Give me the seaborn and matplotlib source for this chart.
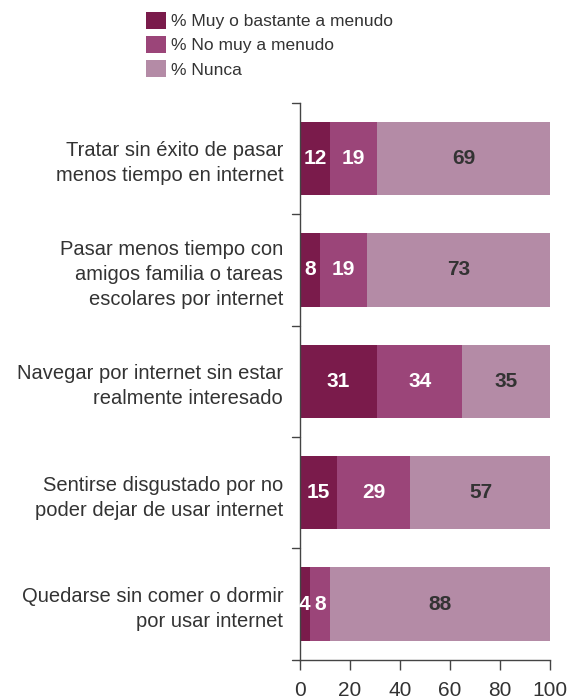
import matplotlib
matplotlib.use("Agg")
import matplotlib.pyplot as plt
import seaborn as sns
import pandas as pd
import numpy as np
from matplotlib.patches import Patch

categories = [
    "Tratar sin éxito de pasar\nmenos tiempo en internet",
    "Pasar menos tiempo con\namigos familia o tareas\nescolares por internet",
    "Navegar por internet sin estar\nrealmente interesado",
    "Sentirse disgustado por no\npoder dejar de usar internet",
    "Quedarse sin comer o dormir\npor usar internet",
]
series_names = ["% Muy o bastante a menudo", "% No muy a menudo", "% Nunca"]
muy = [12, 8, 31, 15, 4]
no_muy = [19, 19, 34, 29, 8]
nunca = [69, 73, 35, 57, 88]
xticks = [0, 20, 40, 60, 80, 100]

colors = ["#7a1b4b", "#9b4579", "#b48ba6"]
text_colors = ["white", "white", "#333333"]

sns.set_theme(style="white")
plt.rcParams["font.family"] = ["Liberation Sans", "DejaVu Sans"]

df = pd.DataFrame({"cat": categories, "muy": muy, "no_muy": no_muy, "nunca": nunca})
df["c1"] = df["muy"]
df["c2"] = df["muy"] + df["no_muy"]
df["c3"] = df["c2"] + df["nunca"]

fig = plt.figure(figsize=(5.68, 6.99), dpi=100)
ax = fig.add_axes([0.528, 0.056, 0.44, 0.797])

for col, c in zip(["c3", "c2", "c1"], colors[::-1]):
    sns.barplot(data=df, x=col, y="cat", orient="h", color=c, width=0.66,
                saturation=1, ax=ax, edgecolor="none", linewidth=0, errorbar=None)

for i, row in df.iterrows():
    starts = [0, row["c1"], row["c2"]]
    vals = [row["muy"], row["no_muy"], row["nunca"]]
    for s, v, tc in zip(starts, vals, text_colors):
        ax.text(s + v / 2, i, f"{v}", ha="center", va="center", color=tc,
                fontsize=15, fontweight="bold")

ax.set_xlim(0, 100)
ax.set_ylim(len(categories) - 0.5, -0.5)
ax.set_xticks(xticks)
ax.set_xticklabels([str(t) for t in xticks], fontsize=15, color="#333333")
ax.set_xlabel("")
ax.set_ylabel("")
ax.set_yticks(range(len(categories)))
ax.set_yticklabels(categories, fontsize=14.5, color="#333333",
                   multialignment="right", linespacing=1.4)
ax.tick_params(axis="y", length=0, pad=12)
# boundary ticks on y axis
for b in np.arange(-0.5, len(categories), 1.0):
    ax.plot([-3.2, 0], [b, b], color="#444444", lw=1, clip_on=False)
ax.tick_params(axis="x", length=7, width=1, color="#444444", direction="out", pad=8, bottom=True)
for side in ["top", "right"]:
    ax.spines[side].set_visible(False)
for side in ["left", "bottom"]:
    ax.spines[side].set_color("#444444")
    ax.spines[side].set_linewidth(1)

handles = [Patch(facecolor=c, edgecolor="none") for c in colors]
fig.legend(handles, series_names, loc="upper left", bbox_to_anchor=(0.245, 0.993),
           frameon=False, fontsize=12.5, handlelength=1.15, handleheight=1.15,
           handletextpad=0.3, labelspacing=0.38, labelcolor="#333333", borderaxespad=0)

fig.savefig("out.png", dpi=100, facecolor="white")
